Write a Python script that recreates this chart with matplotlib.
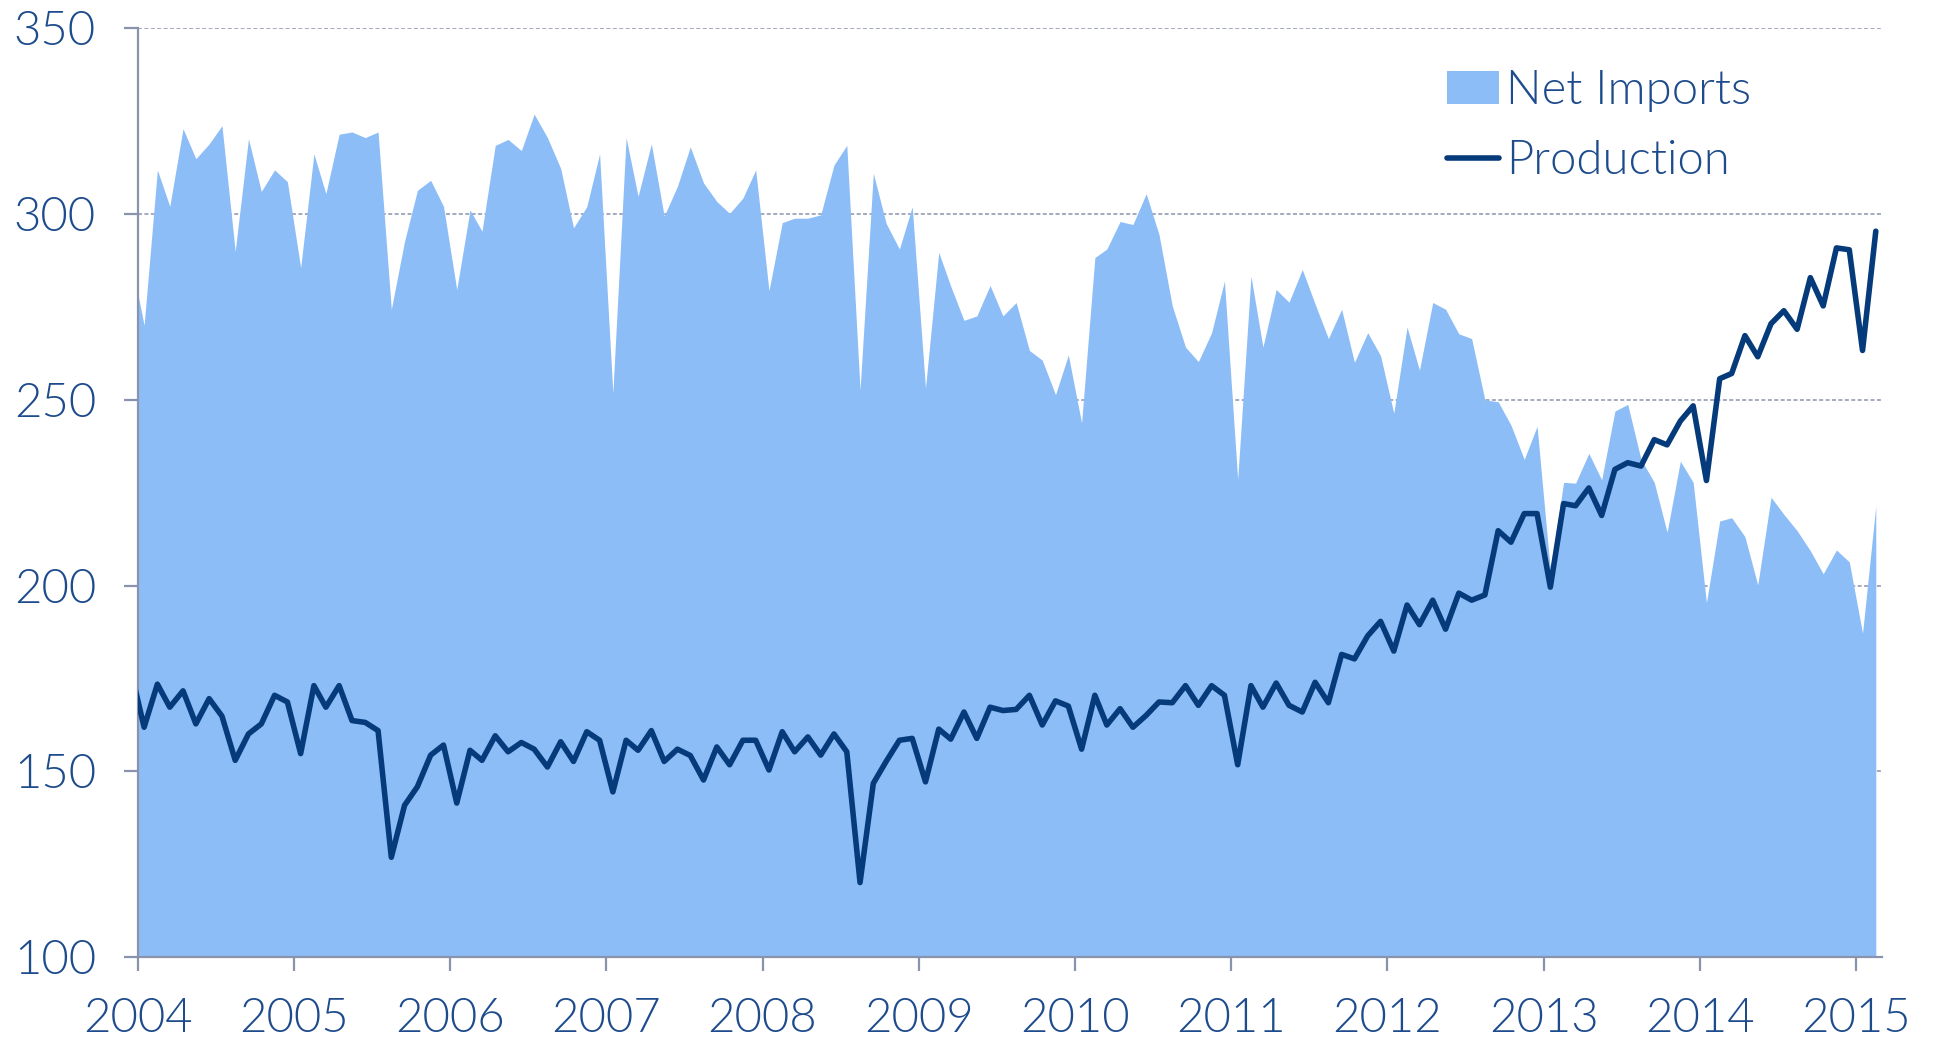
import matplotlib
matplotlib.use("Agg")
import matplotlib.pyplot as plt
import matplotlib.dates as mdates
import pandas as pd

# monthly values, Dec 2003 .. Feb 2015 (first point sits just left of the axis)
months = pd.date_range("2003-12-01", "2015-02-01", freq="MS") + pd.Timedelta(days=15)

net_imports = [
    288.0,
    270.1, 311.9, 302.1, 323.0, 314.9, 318.9, 323.8, 290.0, 320.3, 306.1, 311.9, 308.7,
    285.6, 316.2, 305.5, 321.5, 322.1, 320.6, 322.1, 274.4, 292.7, 306.4, 309.1, 302.1,
    279.7, 301.1, 295.4, 318.5, 320.1, 317.1, 326.9, 320.6, 312.3, 296.3, 302.0, 316.2,
    251.8, 320.6, 304.8, 318.9, 299.5, 307.5, 318.1, 308.4, 303.4, 300.2, 304.3, 311.9,
    279.4, 297.7, 298.9, 298.9, 299.8, 313.2, 318.5, 252.7, 311.0, 297.5, 290.6, 302.0,
    253.2, 289.7, 280.6, 271.4, 272.6, 280.8, 272.6, 276.2, 263.3, 260.7, 251.4, 262.1,
    243.8, 288.3, 290.6, 298.0, 297.2, 305.5, 294.5, 275.3, 264.2, 260.3, 268.1, 282.0,
    228.6, 283.3, 264.2, 279.7, 276.3, 285.1, 275.8, 266.5, 274.4, 260.1, 268.1, 261.9,
    246.4, 269.6, 258.0, 276.2, 274.4, 267.8, 266.5, 250.0, 249.5, 243.2, 234.0, 242.9,
    204.2, 227.8, 227.6, 235.6, 228.5, 247.0, 248.8, 234.0, 227.8, 214.4, 233.5, 227.8,
    195.4, 217.4, 218.3, 213.2, 200.2, 223.8, 219.2, 214.8, 209.4, 203.2, 209.6, 206.4,
    187.2, 221.5,
]

production = [
    177.2,
    161.9, 173.5, 167.3, 171.7, 162.8, 169.6, 164.9, 153.0, 160.1, 162.8, 170.5, 168.7,
    154.8, 173.1, 167.3, 173.1, 163.7, 163.2, 161.0, 126.9, 140.9, 145.9, 154.4, 157.1,
    141.5, 155.7, 153.0, 159.6, 155.3, 157.8, 156.0, 151.2, 158.0, 152.7, 160.7, 158.4,
    144.5, 158.4, 155.7, 161.0, 152.7, 156.0, 154.3, 147.7, 156.6, 151.8, 158.4, 158.4,
    150.4, 160.7, 155.3, 159.3, 154.4, 160.1, 155.3, 120.1, 146.8, 152.7, 158.4, 158.9,
    147.2, 161.4, 158.7, 166.0, 158.9, 167.3, 166.4, 166.7, 170.5, 162.5, 169.0, 167.6,
    156.0, 170.5, 162.5, 166.9, 161.9, 165.1, 168.7, 168.5, 173.1, 167.8, 173.1, 170.5,
    151.8, 173.1, 167.3, 173.8, 167.8, 166.0, 174.0, 168.5, 181.5, 180.3, 186.5, 190.4,
    182.4, 194.8, 189.5, 196.1, 188.3, 198.0, 196.1, 197.5, 214.8, 211.7, 219.4, 219.4,
    199.6, 222.1, 221.5, 226.3, 218.9, 231.3, 233.1, 232.2, 239.3, 237.9, 244.3, 248.4,
    228.3, 255.7, 257.1, 267.3, 261.6, 270.5, 274.0, 269.0, 282.9, 275.3, 290.9, 290.4,
    263.3, 295.4,
]

y_ticks = [100, 150, 200, 250, 300, 350]

area_color = "#8DBDF6"
line_color = "#063B7B"
text_color = "#1D4B8C"
axis_color = "#8A93AD"

plt.rcParams["font.family"] = ["Lato", "DejaVu Sans"]
plt.rcParams["font.weight"] = 300

fig = plt.figure(figsize=(19.34, 10.37), dpi=100)
ax = fig.add_axes([0.0712, 0.0769, 0.9018, 0.8958])

ax.fill_between(months, 100, net_imports, color=area_color, linewidth=0, label="Net Imports", zorder=2)
ax.plot(months, production, color=line_color, linewidth=4.0, solid_joinstyle="round",
        solid_capstyle="round", label="Production", zorder=3)

ax.set_xlim(pd.Timestamp("2004-01-01"), pd.Timestamp("2015-03-02"))
ax.set_ylim(100, 350)
ax.set_yticks(y_ticks)
ax.xaxis.set_major_locator(mdates.YearLocator())
ax.xaxis.set_major_formatter(mdates.DateFormatter("%Y"))

ax.grid(axis="y", color=axis_color, linestyle=(0, (2.6, 1.6)), linewidth=1.1, zorder=0)
ax.set_axisbelow(True)

for side in ["top", "right"]:
    ax.spines[side].set_visible(False)
for side in ["left", "bottom"]:
    ax.spines[side].set_color(axis_color)
    ax.spines[side].set_linewidth(1.6)

ax.tick_params(axis="both", colors=axis_color, length=10, width=1.6, direction="out",
               labelsize=34, labelcolor=text_color)
ax.tick_params(axis="y", pad=20)
ax.tick_params(axis="x", pad=19)

ax.legend(loc="upper left", bbox_to_anchor=(1447 / 1934, 1 - 70 / 1037),
          bbox_transform=fig.transFigure, frameon=False, fontsize=34,
          handlelength=1.1, handletextpad=0.15, labelspacing=0.6,
          borderpad=0, borderaxespad=0, labelcolor=text_color)

fig.savefig("out.png", dpi=100)
